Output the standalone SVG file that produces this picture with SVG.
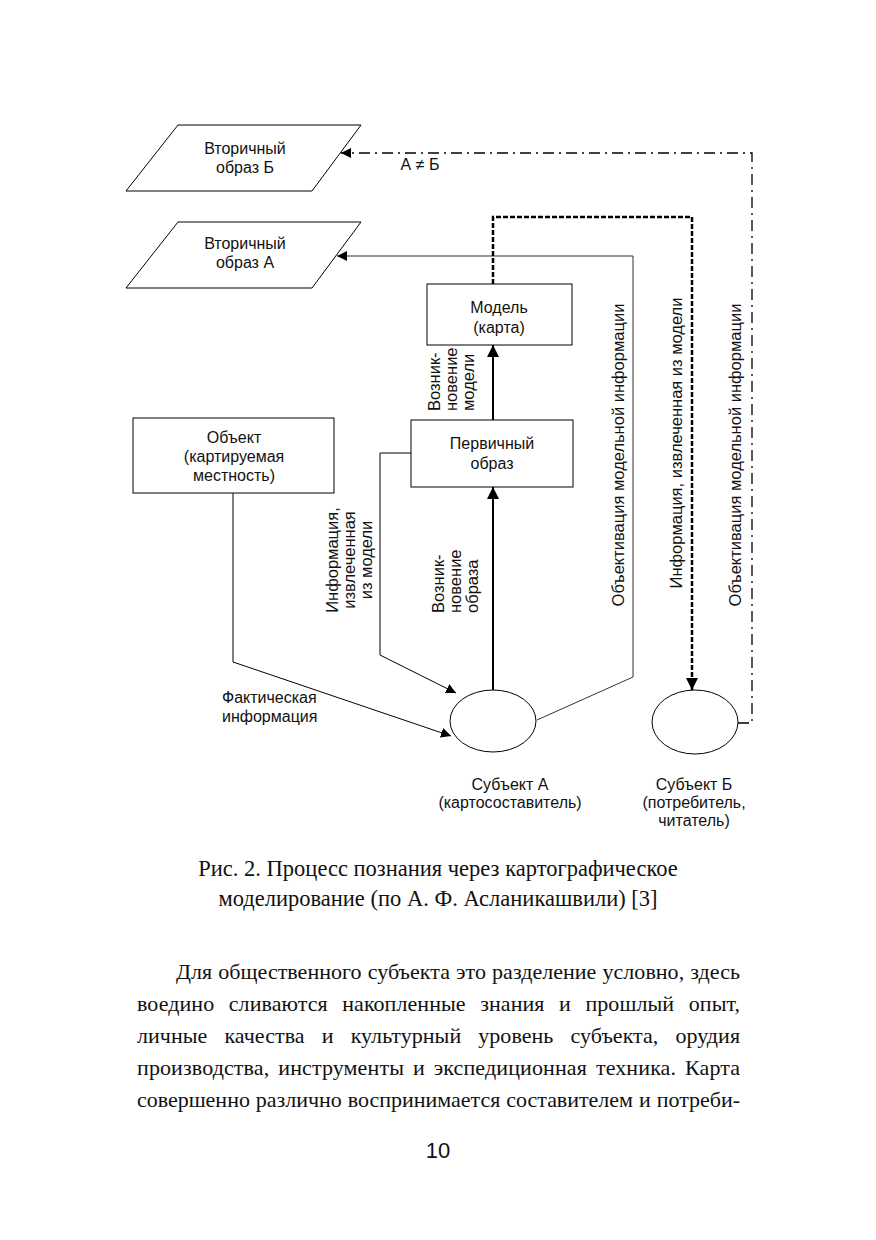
<svg xmlns="http://www.w3.org/2000/svg" width="876" height="1240" viewBox="0 0 876 1240">
<style>
.bg{fill:#ffffff}
.box{fill:#ffffff;stroke:#000;stroke-width:1}
.lbl{font-family:"Liberation Sans",Arial,sans-serif;font-size:16px;fill:#111;text-anchor:middle}
.rl{font-family:"Liberation Sans",Arial,sans-serif;font-size:16.5px;fill:#111}
.thin{fill:none;stroke:#000;stroke-width:1}
.grey{fill:none;stroke:#333;stroke-width:1}
.bold{fill:none;stroke:#000;stroke-width:2}
.dash{fill:none;stroke:#000;stroke-width:2.5;stroke-dasharray:5 2}
.dashdot{fill:none;stroke:#000;stroke-width:1.3;stroke-dasharray:11 5 2 5}
.serif{font-family:"Liberation Serif","Times New Roman",serif;fill:#111}
.cap{font-size:22.5px}
.par{font-size:22px}
</style>
<defs>
<marker id="ah" viewBox="0 0 10 10" refX="10" refY="5" markerWidth="10" markerHeight="10" markerUnits="userSpaceOnUse" orient="auto">
<path d="M0,0 L10,5 L0,10 z" fill="#000"/>
</marker>
<marker id="ahb" viewBox="0 0 10 10" refX="10" refY="5" markerWidth="12" markerHeight="12" markerUnits="userSpaceOnUse" orient="auto">
<path d="M0,0 L10,5 L0,10 z" fill="#000"/>
</marker>
</defs>
<rect class="bg" x="0" y="0" width="876" height="1240"/>

<g id="connectors">
<path class="dashdot" d="M738,723 L752,723 L752,153 L341,153" marker-end="url(#ah)"/>
<path class="grey" d="M537,720 L633,677 L633,256 L337,256" marker-end="url(#ah)"/>
<path class="dash" d="M493,284 L493,217 L692,217 L692,690" marker-end="url(#ahb)"/>
<path class="bold" d="M493,420 L493,345" marker-end="url(#ahb)"/>
<path class="bold" d="M493,690 L493,487" marker-end="url(#ahb)"/>
<path class="thin" d="M233,493 L233,662 L451,736" marker-end="url(#ah)"/>
<path class="thin" d="M411,453 L380,453 L380,655 L456,693" marker-end="url(#ah)"/>
</g>

<g id="node-secondary-b">
<polygon class="box" points="178,125 361,125 312,191 126,191"/>
<text class="lbl" x="245" y="154">Вторичный</text>
<text class="lbl" x="245" y="173">образ Б</text>
</g>
<g id="node-secondary-a">
<polygon class="box" points="178,222 361,222 312,288 126,288"/>
<text class="lbl" x="245" y="249">Вторичный</text>
<text class="lbl" x="245" y="268">образ А</text>
</g>
<g id="node-model">
<rect class="box" x="427" y="284" width="145" height="61"/>
<text class="lbl" x="499" y="313">Модель</text>
<text class="lbl" x="499" y="333">(карта)</text>
</g>
<g id="node-primary">
<rect class="box" x="411" y="420" width="162" height="67"/>
<text class="lbl" x="492" y="449">Первичный</text>
<text class="lbl" x="492" y="469">образ</text>
</g>
<g id="node-object">
<rect class="box" x="133" y="418" width="201" height="75"/>
<text class="lbl" x="234" y="443">Объект</text>
<text class="lbl" x="234" y="462">(картируемая</text>
<text class="lbl" x="234" y="481">местность)</text>
</g>
<g id="node-subject-a">
<ellipse class="box" cx="493" cy="721" rx="43" ry="31"/>
<text class="lbl" x="510" y="790">Субъект А</text>
<text class="lbl" x="510" y="808">(картосоставитель)</text>
</g>
<g id="node-subject-b">
<ellipse class="box" cx="695" cy="722" rx="43" ry="32"/>
<text class="lbl" x="694" y="790">Субъект Б</text>
<text class="lbl" x="694" y="808">(потребитель,</text>
<text class="lbl" x="694" y="826">читатель)</text>
</g>

<g id="labels">
<text class="lbl" x="420" y="170">А ≠ Б</text>
<text class="lbl" x="222" y="703" style="text-anchor:start">Фактическая</text>
<text class="lbl" x="222" y="722" style="text-anchor:start">информация</text>
<text class="rl" transform="translate(440,411) rotate(-90)">Возник-</text>
<text class="rl" transform="translate(457,411) rotate(-90)">новение</text>
<text class="rl" transform="translate(474,411) rotate(-90)">модели</text>
<text class="rl" transform="translate(444,613) rotate(-90)">Возник-</text>
<text class="rl" transform="translate(461,613) rotate(-90)">новение</text>
<text class="rl" transform="translate(478,613) rotate(-90)">образа</text>
<text class="rl" style="text-anchor:middle" transform="translate(338,560) rotate(-90)">Информация,</text>
<text class="rl" style="text-anchor:middle" transform="translate(355,560) rotate(-90)">извлеченная</text>
<text class="rl" style="text-anchor:middle" transform="translate(372,560) rotate(-90)">из модели</text>
<text class="rl" style="text-anchor:middle" transform="translate(624,455) rotate(-90)">Объективация модельной информации</text>
<text class="rl" style="text-anchor:middle" transform="translate(682,443) rotate(-90)">Информация, извлеченная из модели</text>
<text class="rl" style="text-anchor:middle" transform="translate(741,455) rotate(-90)">Объективация модельной информации</text>
</g>

<g id="caption" class="serif cap">
<text x="438" y="876" text-anchor="middle">Рис. 2. Процесс познания через картографическое</text>
<text x="438" y="906" text-anchor="middle">моделирование (по А. Ф. Асланикашвили) [3]</text>
</g>

<g id="paragraph" class="serif par">
<text x="176" y="979" word-spacing="0.6" textLength="564" lengthAdjust="spacing">Для общественного субъекта это разделение условно, здесь</text>
<text x="137" y="1011" word-spacing="9.0" textLength="603" lengthAdjust="spacing">воедино сливаются накопленные знания и прошлый опыт,</text>
<text x="137" y="1043" word-spacing="11.6" textLength="603" lengthAdjust="spacing">личные качества и культурный уровень субъекта, орудия</text>
<text x="137" y="1075" word-spacing="3.3" textLength="603" lengthAdjust="spacing">производства, инструменты и экспедиционная техника. Карта</text>
<text x="137" y="1107" word-spacing="0.5" textLength="603" lengthAdjust="spacing">совершенно различно воспринимается составителем и потреби-</text>
</g>

<g id="page-number">
<text x="438" y="1158" text-anchor="middle" style="font-family:'Liberation Sans',Arial,sans-serif;font-size:22px;fill:#111">10</text>
</g>
</svg>
